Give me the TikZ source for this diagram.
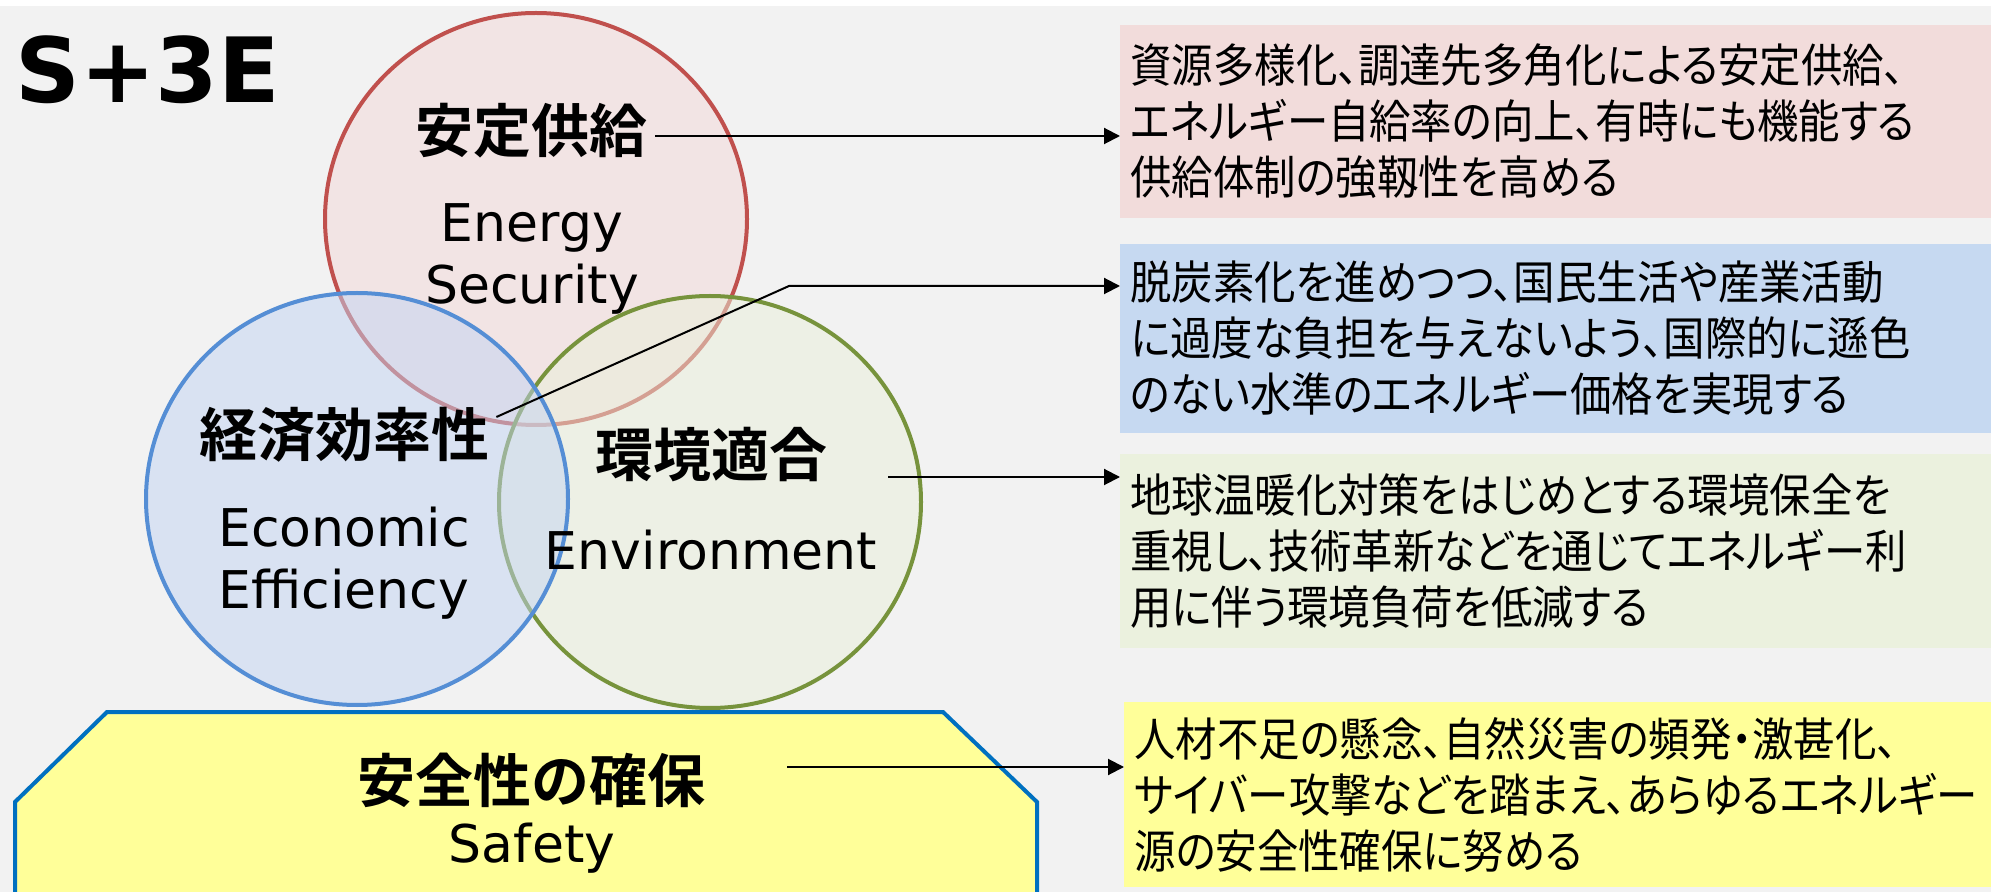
\documentclass[tikz,border=0pt]{standalone}
\usepackage{fontspec}
\setmainfont{DejaVu Sans}
\newfontfamily\jpfont{Noto Sans CJK JP}[BoldFont={Noto Sans CJK JP Bold}]
\newfontfamily\jpdesc{Noto Sans CJK JP}[RawFeature=+palt, FakeStretch=0.9]
\usetikzlibrary{arrows.meta}

\definecolor{bggray}{HTML}{F2F2F2}
\definecolor{secred}{HTML}{C0504D}
\definecolor{secfill}{HTML}{F2E4E4}
\definecolor{ecoblue}{HTML}{558ED5}
\definecolor{ecofill}{HTML}{C2D4F2}
\definecolor{envgreen}{HTML}{77933C}
\definecolor{envfill}{HTML}{E9F0DA}
\definecolor{safeblue}{HTML}{0070C0}
\definecolor{safefill}{HTML}{FFFF99}
\definecolor{pinkbox}{HTML}{F2DCDB}
\definecolor{bluebox}{HTML}{C6D9F1}
\definecolor{greenbox}{HTML}{EBF1DE}

\tikzset{
  headlbl/.style={inner sep=0pt, font=\jpfont\bfseries\fontsize{29}{34}\selectfont},
  sublbl/.style={inner sep=0pt, align=center, font=\fontsize{26}{31}\selectfont},
  descbox/.style={anchor=west, inner xsep=5pt, inner ysep=0pt, text width=434pt,
    align=left, font=\jpdesc\fontsize{23}{28}\selectfont},
  ring/.style={line width=2pt, fill opacity=0.5},
  arr/.style={line width=1pt, -{Triangle[length=8pt,width=8pt]}},
}

\begin{document}
\begin{tikzpicture}[x=0.5pt, y=-0.5pt]
  \useasboundingbox (0,0) rectangle (1991,892);
  % background
  \fill[white] (0,0) rectangle (1991,6);
  \fill[bggray] (0,6) rectangle (1991,892);

  % the three rings
  \draw[secred, line width=2pt, fill=secfill] (536,219) ellipse [x radius=105.5pt, y radius=103pt];
  \draw[ring, envgreen, fill=envfill] (710,502) ellipse [x radius=105.5pt, y radius=103pt];
  \draw[ring, ecoblue, fill=ecofill] (357,499) ellipse [x radius=105.5pt, y radius=103pt];

  % safety base
  \draw[safeblue, line width=2pt, fill=safefill] (15,900) -- (15,802) -- (107,712)
    -- (943,712) -- (1037,802) -- (1037,900);

  % title
  \node[anchor=base west, inner sep=0pt, font=\bfseries\fontsize{45}{54}\selectfont] (s3e) at (15,103) {S+3E};

  % labels
  \node[headlbl] (kyokyu) at (531,131) {安定供給};
  \node[sublbl] (kyokyuEn) at (532,259) {Energy\\Security};
  \node[headlbl] (keizai) at (344,435) {経済効率性};
  \node[sublbl] (keizaiEn) at (344,563) {Economic\\Efficiency};
  \node[headlbl] (kankyo) at (711,455) {環境適合};
  \node[sublbl] (kankyoEn) at (711,550) {Environment};
  \node[headlbl] (anzen) at (531,780) {安全性の確保};
  \node[sublbl] (anzenEn) at (532,848) {Safety};

  % descriptions
  \node[descbox, fill=pinkbox, minimum height=96.5pt] (kyokyuTxt) at (1120,121.5)
    {資源多様化、調達先多角化による安定供給、\\エネルギー自給率の向上、有時にも機能する\\供給体制の強靱性を高める};
  \node[descbox, fill=bluebox, minimum height=94.5pt] (keizaiTxt) at (1120,338.5)
    {脱炭素化を進めつつ、国民生活や産業活動\\に過度な負担を与えないよう、国際的に遜色\\のない水準のエネルギー価格を実現する};
  \node[descbox, fill=greenbox, minimum height=97pt] (kankyoTxt) at (1120,551)
    {地球温暖化対策をはじめとする環境保全を\\重視し、技術革新などを通じてエネルギー利\\用に伴う環境負荷を低減する};
  \node[descbox, fill=safefill, minimum height=92.5pt] (anzenTxt) at (1124,794.5)
    {人材不足の懸念、自然災害の頻発・激甚化、\\サイバー攻撃などを踏まえ、あらゆるエネルギー\\源の安全性確保に努める};

  % arrows
  \coordinate (kyokyuOut) at ([xshift=4pt,yshift=-2.5pt]kyokyu.east);
  \coordinate (keizaiOut) at ([xshift=3.5pt,yshift=9pt]keizai.east);
  \coordinate (bend) at (789,286);
  \coordinate (kankyoOut) at ([xshift=30.5pt,yshift=-11pt]kankyo.east);
  \coordinate (anzenOut) at ([xshift=41pt,yshift=6.5pt]anzen.east);
  \draw[arr] (kyokyuOut) -- (kyokyuOut -| kyokyuTxt.west);
  \draw[arr] (keizaiOut) -- (bend) -- (bend -| keizaiTxt.west);
  \draw[arr] (kankyoOut) -- (kankyoOut -| kankyoTxt.west);
  \draw[arr] (anzenOut) -- (anzenOut -| anzenTxt.west);
\end{tikzpicture}
\end{document}
